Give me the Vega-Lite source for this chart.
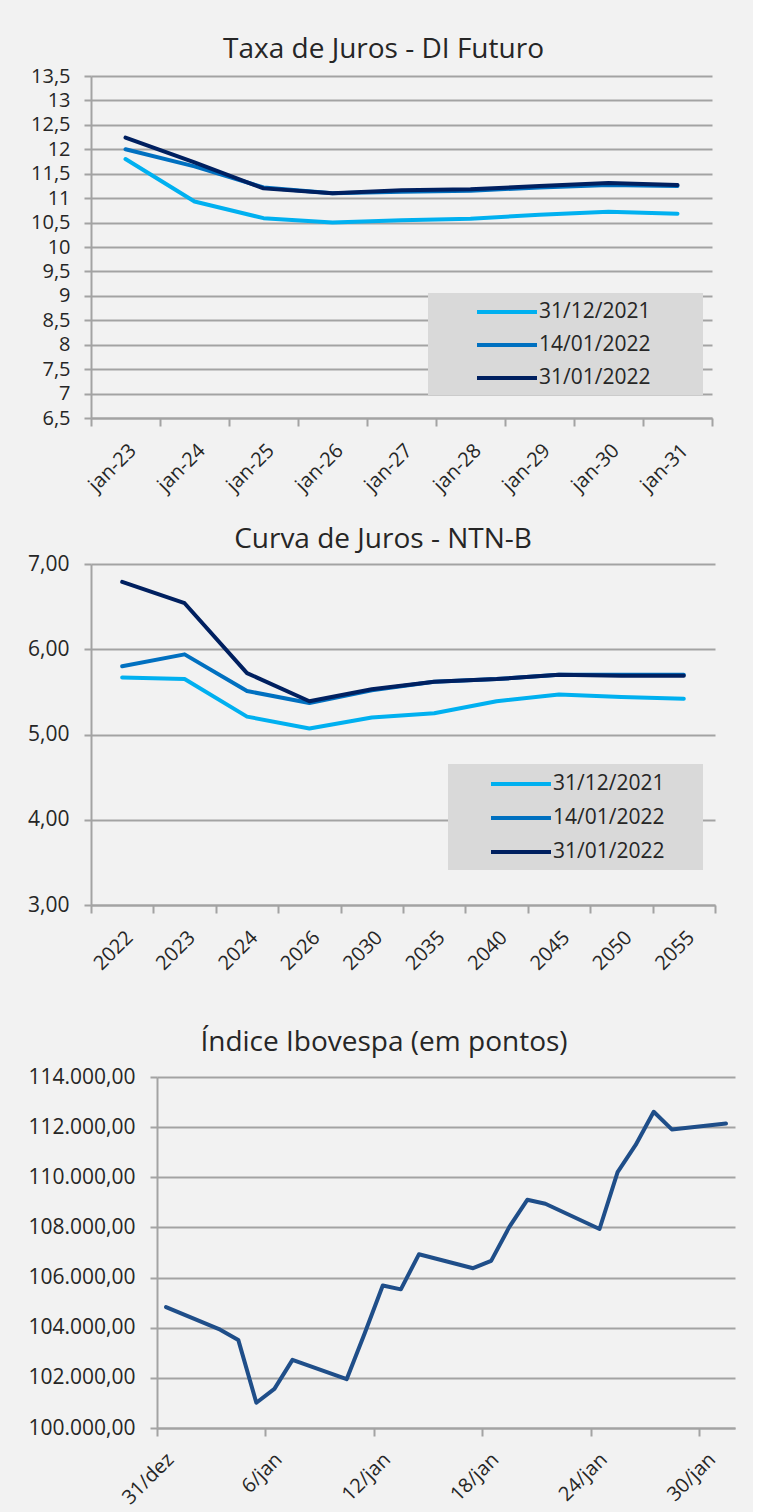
{
  "$schema": "https://vega.github.io/schema/vega-lite/v6.json",
  "background": "#f2f2f2",
  "padding": {"left": 0, "top": 36, "right": 18, "bottom": 0},
  "spacing": 0,
  "config": {
    "font": "Open Sans",
    "view": {"stroke": null},
    "axis": {"labelFont": "Open Sans", "labelColor": "#262626", "title": null, "gridColor": "#a3a3a3", "gridWidth": 2, "domainColor": "#a3a3a3", "domainWidth": 2, "tickColor": "#a3a3a3", "tickWidth": 2}
  },
  "datasets": {
    "di": [
      {"venc": "jan-23", "data": "31/12/2021", "taxa": 11.80},
      {"venc": "jan-24", "data": "31/12/2021", "taxa": 10.93},
      {"venc": "jan-25", "data": "31/12/2021", "taxa": 10.59},
      {"venc": "jan-26", "data": "31/12/2021", "taxa": 10.50},
      {"venc": "jan-27", "data": "31/12/2021", "taxa": 10.55},
      {"venc": "jan-28", "data": "31/12/2021", "taxa": 10.58},
      {"venc": "jan-29", "data": "31/12/2021", "taxa": 10.66},
      {"venc": "jan-30", "data": "31/12/2021", "taxa": 10.72},
      {"venc": "jan-31", "data": "31/12/2021", "taxa": 10.68},
      {"venc": "jan-23", "data": "14/01/2022", "taxa": 12.00},
      {"venc": "jan-24", "data": "14/01/2022", "taxa": 11.65},
      {"venc": "jan-25", "data": "14/01/2022", "taxa": 11.22},
      {"venc": "jan-26", "data": "14/01/2022", "taxa": 11.10},
      {"venc": "jan-27", "data": "14/01/2022", "taxa": 11.13},
      {"venc": "jan-28", "data": "14/01/2022", "taxa": 11.15},
      {"venc": "jan-29", "data": "14/01/2022", "taxa": 11.22},
      {"venc": "jan-30", "data": "14/01/2022", "taxa": 11.27},
      {"venc": "jan-31", "data": "14/01/2022", "taxa": 11.25},
      {"venc": "jan-23", "data": "31/01/2022", "taxa": 12.24},
      {"venc": "jan-24", "data": "31/01/2022", "taxa": 11.73},
      {"venc": "jan-25", "data": "31/01/2022", "taxa": 11.20},
      {"venc": "jan-26", "data": "31/01/2022", "taxa": 11.10},
      {"venc": "jan-27", "data": "31/01/2022", "taxa": 11.16},
      {"venc": "jan-28", "data": "31/01/2022", "taxa": 11.18},
      {"venc": "jan-29", "data": "31/01/2022", "taxa": 11.25},
      {"venc": "jan-30", "data": "31/01/2022", "taxa": 11.31},
      {"venc": "jan-31", "data": "31/01/2022", "taxa": 11.27}
    ],
    "ntnb": [
      {"ano": "2022", "data": "31/12/2021", "taxa": 5.67},
      {"ano": "2023", "data": "31/12/2021", "taxa": 5.65},
      {"ano": "2024", "data": "31/12/2021", "taxa": 5.21},
      {"ano": "2026", "data": "31/12/2021", "taxa": 5.07},
      {"ano": "2030", "data": "31/12/2021", "taxa": 5.20},
      {"ano": "2035", "data": "31/12/2021", "taxa": 5.25},
      {"ano": "2040", "data": "31/12/2021", "taxa": 5.39},
      {"ano": "2045", "data": "31/12/2021", "taxa": 5.47},
      {"ano": "2050", "data": "31/12/2021", "taxa": 5.44},
      {"ano": "2055", "data": "31/12/2021", "taxa": 5.42},
      {"ano": "2022", "data": "14/01/2022", "taxa": 5.80},
      {"ano": "2023", "data": "14/01/2022", "taxa": 5.94},
      {"ano": "2024", "data": "14/01/2022", "taxa": 5.51},
      {"ano": "2026", "data": "14/01/2022", "taxa": 5.37},
      {"ano": "2030", "data": "14/01/2022", "taxa": 5.52},
      {"ano": "2035", "data": "14/01/2022", "taxa": 5.62},
      {"ano": "2040", "data": "14/01/2022", "taxa": 5.65},
      {"ano": "2045", "data": "14/01/2022", "taxa": 5.70},
      {"ano": "2050", "data": "14/01/2022", "taxa": 5.70},
      {"ano": "2055", "data": "14/01/2022", "taxa": 5.70},
      {"ano": "2022", "data": "31/01/2022", "taxa": 6.79},
      {"ano": "2023", "data": "31/01/2022", "taxa": 6.54},
      {"ano": "2024", "data": "31/01/2022", "taxa": 5.72},
      {"ano": "2026", "data": "31/01/2022", "taxa": 5.39},
      {"ano": "2030", "data": "31/01/2022", "taxa": 5.53},
      {"ano": "2035", "data": "31/01/2022", "taxa": 5.62},
      {"ano": "2040", "data": "31/01/2022", "taxa": 5.65},
      {"ano": "2045", "data": "31/01/2022", "taxa": 5.70},
      {"ano": "2050", "data": "31/01/2022", "taxa": 5.69},
      {"ano": "2055", "data": "31/01/2022", "taxa": 5.69}
    ],
    "ibov": [
      {"dia": "2021-12-31", "pontos": 104822},
      {"dia": "2022-01-03", "pontos": 103922},
      {"dia": "2022-01-04", "pontos": 103514},
      {"dia": "2022-01-05", "pontos": 101006},
      {"dia": "2022-01-06", "pontos": 101561},
      {"dia": "2022-01-07", "pontos": 102719},
      {"dia": "2022-01-10", "pontos": 101945},
      {"dia": "2022-01-11", "pontos": 103779},
      {"dia": "2022-01-12", "pontos": 105686},
      {"dia": "2022-01-13", "pontos": 105530},
      {"dia": "2022-01-14", "pontos": 106928},
      {"dia": "2022-01-17", "pontos": 106374},
      {"dia": "2022-01-18", "pontos": 106668},
      {"dia": "2022-01-19", "pontos": 108013},
      {"dia": "2022-01-20", "pontos": 109102},
      {"dia": "2022-01-21", "pontos": 108942},
      {"dia": "2022-01-24", "pontos": 107937},
      {"dia": "2022-01-25", "pontos": 110204},
      {"dia": "2022-01-26", "pontos": 111289},
      {"dia": "2022-01-27", "pontos": 112612},
      {"dia": "2022-01-28", "pontos": 111910},
      {"dia": "2022-01-31", "pontos": 112144}
    ]
  },
  "resolve": {"scale": {"x": "independent", "y": "independent", "color": "independent"}, "legend": {"color": "independent"}},
  "vconcat": [
    {
      "width": 621,
      "height": 342,
      "title": {"text": "Taxa de Juros - DI Futuro", "fontSize": 28, "fontWeight": "normal", "color": "#262626", "font": "Open Sans", "baseline": "alphabetic", "offset": -20, "dx": -18},
      "data": {"name": "di"},
      "mark": {"type": "line", "strokeWidth": 4, "strokeJoin": "round", "strokeCap": "round"},
      "encoding": {
        "x": {"field": "venc", "type": "ordinal", "sort": null, "scale": {"type": "band", "paddingInner": 0, "paddingOuter": 0},
          "axis": {"labelAngle": -45, "tickBand": "extent", "tickSize": 8, "labelPadding": 14, "labelFontSize": 20, "grid": false, "minExtent": 108, "maxExtent": 108}},
        "y": {"field": "taxa", "type": "quantitative", "scale": {"domain": [6.5, 13.5], "nice": false, "zero": false},
          "axis": {"values": [6.5, 7, 7.5, 8, 8.5, 9, 9.5, 10, 10.5, 11, 11.5, 12, 12.5, 13, 13.5], "labelExpr": "datum.value % 1 == 0 ? format(datum.value, 'd') : replace(format(datum.value, '.1f'), '.', ',')", "grid": true, "tickSize": 7, "labelPadding": 14, "labelFontSize": 20, "minExtent": 91, "maxExtent": 91}},
        "color": {"field": "data", "type": "nominal",
          "scale": {"domain": ["31/12/2021", "14/01/2022", "31/01/2022"], "range": ["#00b0f0", "#0070c0", "#002060"]},
          "legend": {"orient": "none", "legendX": 337, "legendY": 217, "title": " ", "titleOrient": "right", "titlePadding": 46, "fillColor": "#d9d9d9", "padding": 7, "symbolType": "M-3,0H3", "symbolSize": 400, "symbolStrokeWidth": 4, "symbolOffset": 60, "labelOffset": 20, "labelFontSize": 21, "labelColor": "#262626", "labelFont": "Open Sans", "rowPadding": 11}}
      }
    },
    {
      "width": 624,
      "height": 341,
      "title": {"text": "Curva de Juros - NTN-B", "fontSize": 28, "fontWeight": "normal", "color": "#262626", "font": "Open Sans", "baseline": "alphabetic", "offset": -23, "dx": -20},
      "data": {"name": "ntnb"},
      "mark": {"type": "line", "strokeWidth": 4, "strokeJoin": "round", "strokeCap": "round"},
      "encoding": {
        "x": {"field": "ano", "type": "ordinal", "sort": null, "scale": {"type": "band", "paddingInner": 0, "paddingOuter": 0},
          "axis": {"labelAngle": -45, "tickBand": "extent", "tickSize": 8, "labelPadding": 14, "labelFontSize": 20, "grid": false, "minExtent": 124, "maxExtent": 124}},
        "y": {"field": "taxa", "type": "quantitative", "scale": {"domain": [3, 7], "nice": false, "zero": false},
          "axis": {"values": [3, 4, 5, 6, 7], "labelExpr": "replace(format(datum.value, '.2f'), '.', ',')", "grid": true, "tickSize": 7, "labelPadding": 15, "labelFontSize": 21, "minExtent": 91, "maxExtent": 91}},
        "color": {"field": "data", "type": "nominal",
          "scale": {"domain": ["31/12/2021", "14/01/2022", "31/01/2022"], "range": ["#00b0f0", "#0070c0", "#002060"]},
          "legend": {"orient": "none", "legendX": 357, "legendY": 200, "title": " ", "titleOrient": "right", "titlePadding": 31, "fillColor": "#d9d9d9", "padding": 8, "symbolType": "M-3,0H3", "symbolSize": 400, "symbolStrokeWidth": 4, "symbolOffset": 53, "labelOffset": 20, "labelFontSize": 21, "labelColor": "#262626", "labelFont": "Open Sans", "rowPadding": 12}}
      }
    },
    {
      "width": 644,
      "height": 351,
      "title": {"text": "Índice Ibovespa (em pontos)", "fontSize": 28, "fontWeight": "normal", "color": "#262626", "font": "Open Sans", "baseline": "alphabetic", "offset": -13, "dx": -29},
      "data": {"name": "ibov"},
      "mark": {"type": "line", "strokeWidth": 4, "strokeJoin": "round", "strokeCap": "round", "color": "#1f4e89"},
      "encoding": {
        "x": {"field": "dia", "type": "temporal",
          "scale": {"type": "utc", "range": [66, 644], "domain": [{"year": 2021, "month": 12, "date": 30, "hours": 12, "utc": true}, {"year": 2022, "month": 1, "date": 31, "hours": 12, "utc": true}], "nice": false},
          "axis": {"values": [
              {"year": 2021, "month": 12, "date": 30, "hours": 12, "utc": true},
              {"year": 2022, "month": 1, "date": 5, "hours": 12, "utc": true},
              {"year": 2022, "month": 1, "date": 11, "hours": 12, "utc": true},
              {"year": 2022, "month": 1, "date": 17, "hours": 12, "utc": true},
              {"year": 2022, "month": 1, "date": 23, "hours": 12, "utc": true},
              {"year": 2022, "month": 1, "date": 29, "hours": 12, "utc": true}],
            "labelExpr": "utcdate(time(datum.value) + 43200000) + '/' + (utcmonth(time(datum.value) + 43200000) == 11 ? 'dez' : 'jan')",
            "labelAngle": -45, "labelOffset": 6, "tickSize": 8, "labelPadding": 13, "labelFontSize": 20, "grid": false, "minExtent": 84, "maxExtent": 84}},
        "y": {"field": "pontos", "type": "quantitative", "scale": {"domain": [100000, 114000], "nice": false, "zero": false},
          "axis": {"offset": -66, "values": [100000, 102000, 104000, 106000, 108000, 110000, 112000, 114000], "labelExpr": "replace(replace(replace(format(datum.value, ',.2f'), ',', '#'), '.', ','), '#', '.')", "grid": true, "tickSize": 7, "labelPadding": 15, "labelFontSize": 21, "minExtent": 0, "maxExtent": 200}}
      }
    }
  ]
}
